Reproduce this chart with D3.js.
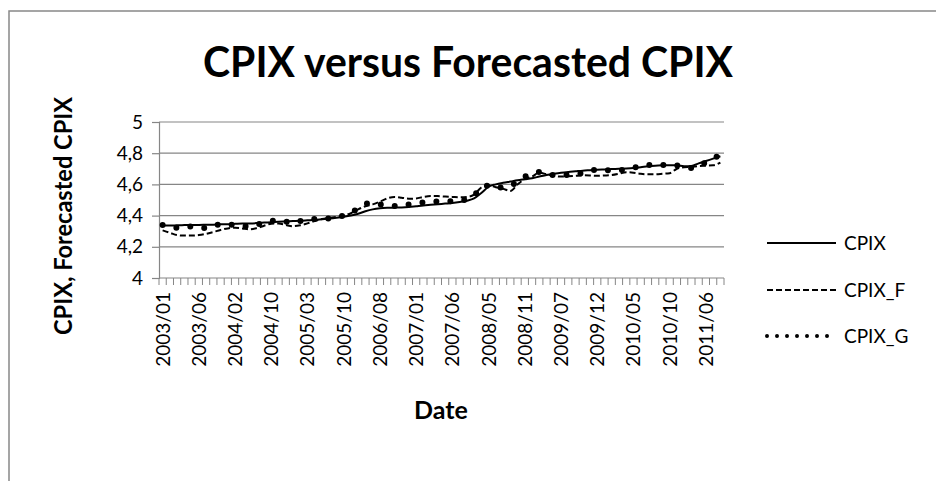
<!DOCTYPE html>
<html>
<head>
<meta charset="utf-8">
<script src="https://cdn.jsdelivr.net/npm/d3@7"></script>
<style>
  body { margin: 0; background: #fff; }
  text { font-family: Lato, "Open Sans", sans-serif; fill: #000; }
</style>
</head>
<body>
<div id="chart"></div>
<script>
// Dates (categories), every 5th is labelled
const dates = [
  "2003/01","2003/02","2003/03","2003/04","2003/05",
  "2003/06","2003/08","2003/09","2003/11","2003/12",
  "2004/02","2004/04","2004/05","2004/07","2004/08",
  "2004/10","2004/11","2004/12","2005/01","2005/02",
  "2005/03","2005/05","2005/06","2005/07","2005/09",
  "2005/10","2005/12","2006/02","2006/04","2006/06",
  "2006/08","2006/09","2006/10","2006/11","2006/12",
  "2007/01","2007/02","2007/03","2007/04","2007/05",
  "2007/06","2007/08","2007/10","2007/12","2008/03",
  "2008/05","2008/06","2008/07","2008/09","2008/10",
  "2008/11","2009/01","2009/03","2009/04","2009/06",
  "2009/07","2009/08","2009/09","2009/10","2009/11",
  "2009/12","2010/01","2010/02","2010/03","2010/04",
  "2010/05","2010/06","2010/07","2010/08","2010/09",
  "2010/10","2010/12","2011/01","2011/03","2011/04",
  "2011/06","2011/07","2011/08"
];

const cpix = [
  4.337,4.336,4.338,4.339,4.340,4.340,4.341,4.342,4.344,4.345,
  4.347,4.349,4.350,4.352,4.355,4.358,4.361,4.363,4.365,4.367,
  4.370,4.373,4.377,4.381,4.386,4.392,4.400,4.412,4.428,4.440,
  4.447,4.450,4.451,4.452,4.455,4.460,4.465,4.469,4.473,4.477,
  4.481,4.487,4.495,4.510,4.545,4.585,4.600,4.610,4.618,4.626,
  4.633,4.640,4.650,4.660,4.668,4.675,4.680,4.684,4.688,4.691,
  4.694,4.696,4.698,4.700,4.702,4.705,4.710,4.716,4.720,4.722,
  4.723,4.722,4.716,4.718,4.735,4.750,4.765,4.780
];

const cpixF = [
  4.305,4.290,4.275,4.272,4.272,4.275,4.283,4.295,4.308,4.318,
  4.322,4.318,4.312,4.320,4.335,4.348,4.350,4.340,4.332,4.338,
  4.350,4.365,4.378,4.385,4.392,4.400,4.415,4.440,4.460,4.472,
  4.490,4.510,4.520,4.515,4.508,4.510,4.520,4.525,4.525,4.522,
  4.520,4.518,4.520,4.535,4.580,4.595,4.582,4.572,4.558,4.600,
  4.635,4.650,4.675,4.665,4.655,4.650,4.652,4.655,4.658,4.657,
  4.655,4.657,4.660,4.668,4.678,4.675,4.668,4.665,4.665,4.668,
  4.672,4.700,4.710,4.712,4.718,4.720,4.722,4.740
];

const cpixG = [
  4.340,4.330,4.322,4.325,4.330,4.325,4.320,4.332,4.345,4.342,
  4.340,4.335,4.330,4.342,4.355,4.365,4.370,4.362,4.355,4.365,
  4.375,4.378,4.380,4.382,4.392,4.400,4.420,4.445,4.475,4.480,
  4.472,4.468,4.462,4.462,4.472,4.478,4.485,4.490,4.490,4.490,
  4.492,4.495,4.505,4.528,4.585,4.592,4.578,4.582,4.590,4.620,
  4.650,4.668,4.680,4.672,4.660,4.660,4.660,4.665,4.672,4.685,
  4.695,4.692,4.690,4.692,4.695,4.705,4.720,4.725,4.725,4.725,
  4.725,4.722,4.712,4.705,4.720,4.740,4.765,4.790
];

const yTicks = [4, 4.2, 4.4, 4.6, 4.8, 5];
const seriesNames = ["CPIX", "CPIX_F", "CPIX_G"];

const width = 936, height = 481;
const plot = { left: 159, right: 724, top: 122, bottom: 278 };

const svg = d3.select("#chart").append("svg")
  .attr("width", width)
  .attr("height", height);

svg.append("rect")
  .attr("x", 9).attr("y", 11)
  .attr("width", 1000).attr("height", 600)
  .attr("fill", "#fff")
  .attr("stroke", "#888")
  .attr("stroke-width", 1.5);

const x = d3.scaleBand()
  .domain(dates)
  .range([plot.left, plot.right])
  .padding(0);

const y = d3.scaleLinear()
  .domain([4, 5])
  .range([plot.bottom, plot.top]);

// gridlines
svg.append("g")
  .selectAll("line")
  .data(yTicks.slice(1))
  .enter()
  .append("line")
  .attr("x1", plot.left).attr("x2", plot.right)
  .attr("y1", d => y(d)).attr("y2", d => y(d))
  .style("stroke", "#868686")
  .style("stroke-width", 1.2);

// y axis
const yAxis = svg.append("g")
  .attr("transform", `translate(${plot.left},0)`)
  .call(d3.axisLeft(y).tickValues(yTicks).tickSize(7).tickPadding(9)
    .tickFormat(d => d3.format(".1~f")(d).replace(".", ",")));
yAxis.select(".domain").style("stroke", "#868686").style("stroke-width", 1.2);
yAxis.selectAll(".tick line").style("stroke", "#868686").style("stroke-width", 1.2);
yAxis.selectAll("text")
  .style("font-size", "19px")
  .style("font-family", "Lato, 'Open Sans', sans-serif")
  .style("fill", "#000");

// x axis: ticks between categories
const xg = svg.append("g");
xg.append("line")
  .attr("x1", plot.left).attr("x2", plot.right)
  .attr("y1", plot.bottom).attr("y2", plot.bottom)
  .style("stroke", "#868686").style("stroke-width", 1.2);
xg.selectAll("line.tk")
  .data(dates.concat(["end"]))
  .enter()
  .append("line")
  .attr("class", "tk")
  .attr("x1", (d, i) => plot.left + i * x.bandwidth())
  .attr("x2", (d, i) => plot.left + i * x.bandwidth())
  .attr("y1", plot.bottom).attr("y2", plot.bottom + 7)
  .style("stroke", "#868686").style("stroke-width", 1);

xg.selectAll("text")
  .data(dates.filter((d, i) => i % 5 === 0))
  .enter()
  .append("text")
  .attr("transform", d => `translate(${x(d) + x.bandwidth() / 2 + 7},${plot.bottom + 14}) rotate(-90)`)
  .attr("text-anchor", "end")
  .style("font-size", "19px")
  .text(d => d);

// series
const line = d3.line()
  .x((d, i) => x(dates[i]) + x.bandwidth() / 2)
  .y(d => y(d))
  .curve(d3.curveMonotoneX);

const styles = [
  { data: cpix, width: 2, dash: null, cap: "butt", legendDash: null },
  { data: cpixF, width: 2, dash: "6,3", cap: "butt", legendDash: "6,3" },
  { data: cpixG, width: 6, dash: "0,14", cap: "round", legendDash: "0,10" }
];

styles.forEach(s => {
  svg.append("path")
    .datum(s.data)
    .attr("d", line)
    .style("fill", "none")
    .style("stroke", "#000")
    .style("stroke-width", s.width)
    .style("stroke-linecap", s.cap)
    .style("stroke-dasharray", s.dash);
});

// legend
const legendY = [243, 290, 336];
seriesNames.forEach((name, i) => {
  svg.append("line")
    .attr("x1", 767).attr("x2", 836)
    .attr("y1", legendY[i]).attr("y2", legendY[i])
    .style("stroke", "#000")
    .style("stroke-width", i === 2 ? 4 : styles[i].width)
    .style("stroke-linecap", styles[i].cap)
    .style("stroke-dasharray", styles[i].legendDash);
  svg.append("text")
    .attr("x", 844).attr("y", legendY[i] + 7)
    .style("font-size", "19px")
    .text(name);
});

// titles
svg.append("text")
  .attr("x", 468).attr("y", 77)
  .attr("text-anchor", "middle")
  .attr("textLength", 530)
  .attr("lengthAdjust", "spacingAndGlyphs")
  .style("font-size", "42px")
  .style("font-weight", "bold")
  .text("CPIX versus Forecasted CPIX");

svg.append("text")
  .attr("transform", "translate(72,216) rotate(-90)")
  .attr("text-anchor", "middle")
  .attr("textLength", 238)
  .attr("lengthAdjust", "spacingAndGlyphs")
  .style("font-size", "25px")
  .style("font-weight", "bold")
  .text("CPIX, Forecasted CPIX");

svg.append("text")
  .attr("x", 441).attr("y", 419)
  .attr("text-anchor", "middle")
  .style("font-size", "25px")
  .style("font-weight", "bold")
  .text("Date");
</script>
</body>
</html>
